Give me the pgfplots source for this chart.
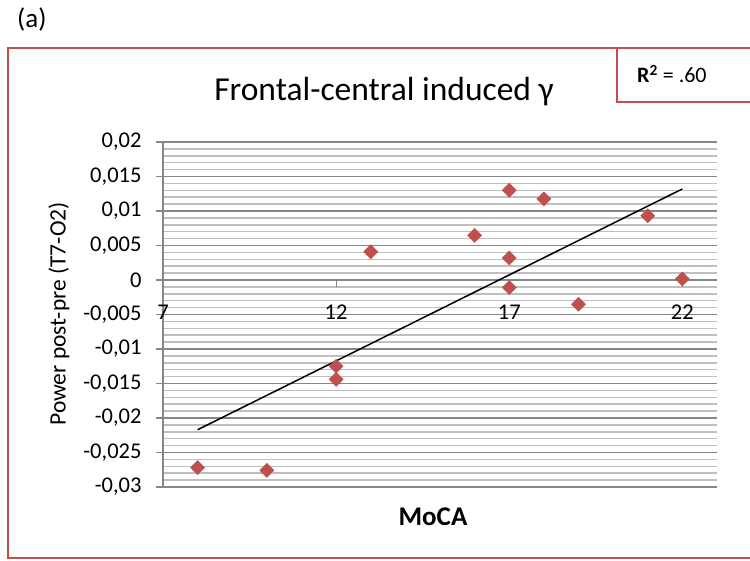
\documentclass[border=0pt]{standalone}
\usepackage{pgfplots}
\pgfplotsset{compat=1.18}
\usepackage{fontspec}
\setmainfont{Carlito}
\definecolor{xred}{HTML}{C0504D}
\definecolor{gmaj}{HTML}{868686}
\definecolor{gmin}{HTML}{BFBFBF}
\begin{document}
\begin{tikzpicture}[x=1pt,y=1pt]
\path[use as bounding box] (0,0) rectangle (750,560);
% outer frame (right side cut off)
\draw[xred, line width=2pt] (770,512) -- (8,512) -- (8,2) -- (770,2);
% R^2 box
\draw[xred, line width=2pt] (770,458) -- (617,458) -- (617,512);
\node[anchor=west, inner sep=0pt, font=\fontsize{22}{26}\selectfont] at (637,486) {\textbf{R\textsuperscript{2}} = .60};
\node[anchor=west, inner sep=0pt, font=\fontsize{27}{31}\selectfont] at (17,540) {(a)};
\node[inner sep=0pt, font=\fontsize{33.5}{38}\selectfont] at (384,468) {Frontal-central induced γ};
\node[inner sep=0pt, rotate=90, font=\fontsize{23.5}{27}\selectfont] at (59,246) {Power post-pre (T7-O2)};
\node[inner sep=0pt, font=\bfseries\fontsize{27}{31}\selectfont] at (433,43) {MoCA};
\begin{axis}[
  at={(163pt,73pt)}, anchor=south west,
  scale only axis, width=554pt, height=345pt,
  xmin=7, xmax=23, ymin=-0.03, ymax=0.02,
  axis x line*=middle, axis y line*=left,
  hide obscured x ticks=false,
  axis line style={gmaj, line width=1.5pt},
  xtick={7,12,17,22},
  xticklabels={7,12,17,22},
  ytick={-0.03,-0.025,-0.02,-0.015,-0.01,-0.005,0,0.005,0.01,0.015,0.02},
  yticklabels={{-0,03},{-0,025},{-0,02},{-0,015},{-0,01},{-0,005},{0},{0,005},{0,01},{0,015},{0,02}},
  scaled y ticks=false,
  minor y tick num=4,
  ymajorgrids, yminorgrids,
  major grid style={gmaj, line width=1.5pt},
  minor grid style={gmin, line width=1.5pt},
  tick align=outside,
  major tick length=7pt, minor tick length=0pt,
  tick style={gmaj, line width=1.2pt},
  ticklabel style={font=\fontsize{22.5}{26}\selectfont},
  yticklabel shift=11pt,
  xticklabel style={anchor=north, inner sep=0pt, yshift=-18pt},
]
\addplot[only marks, mark=square*, mark size=5pt, mark options={rotate=45, fill=xred, draw=xred}] coordinates {
(17,0.0130) (18,0.01175) (21,0.0093) (16,0.00646) (13,0.0041) (17,0.0032)
(22,0.00015) (17,-0.0011) (19,-0.0035) (12,-0.0125) (12,-0.0144)
(8,-0.0272) (10,-0.0276)
};
\addplot[black, line width=1.5pt, no marks] coordinates {(8,-0.0217) (22,0.0132)};
\end{axis}
\end{tikzpicture}
\end{document}
